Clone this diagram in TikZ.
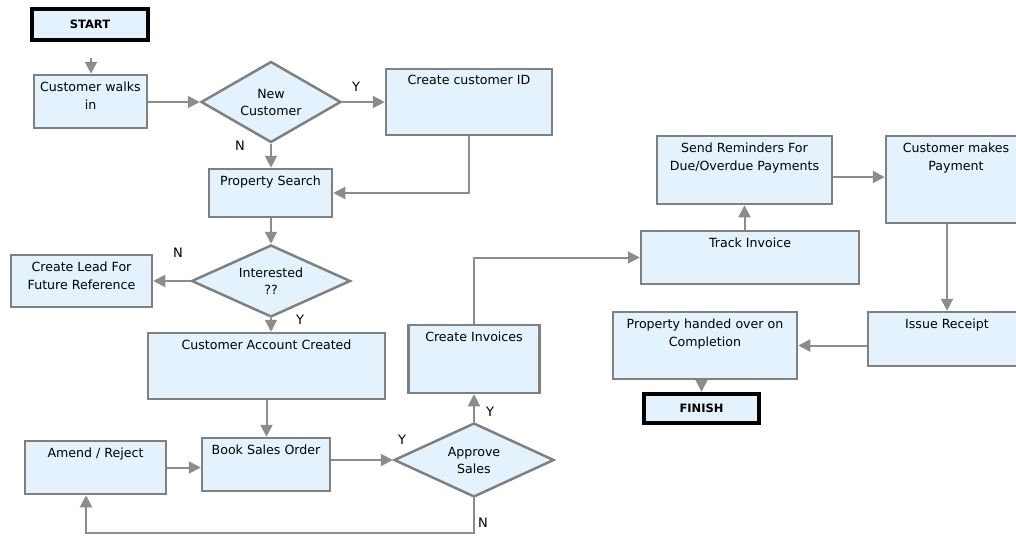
\documentclass[tikz,border=0pt]{standalone}
\usepackage{fontspec}
\setmainfont{DejaVu Sans}
\usepackage{tikz}
\usetikzlibrary{shapes.geometric,
				arrows.meta,
				calc}

\definecolor{boxfill}{RGB}{227,242,253}
\definecolor{boxline}{RGB}{128,128,128}
\definecolor{flowline}{RGB}{140,140,140}

\begin{document}
\begin{tikzpicture}[x=1pt, y=-1pt,
	box/.style={rectangle, draw=boxline, fill=boxfill, line width=2.5pt, inner sep=0pt},
	endbox/.style={rectangle, draw=black, fill=boxfill, line width=4.5pt, inner sep=0pt, font=\fontsize{11.5}{13}\selectfont\bfseries},
	decision/.style={diamond, draw=boxline, fill=boxfill, line width=2.5pt, inner sep=0pt},
	btext/.style={anchor=north, align=center, inner sep=0pt, yshift=-7.5pt, font=\fontsize{12.6}{18}\selectfont},
	dtext/.style={align=center, inner sep=0pt, font=\fontsize{12.6}{17}\selectfont},
	flow/.style={draw=flowline, line width=2pt, -{Triangle[length=12pt, width=12pt]}},
	yn/.style={inner sep=0pt, font=\fontsize{13}{14}\selectfont}]

\useasboundingbox[fill=white] (0,0) rectangle (1016,535);
\clip (0,0) rectangle (1016,535);

% left column
\node[endbox, minimum width=116pt, minimum height=31pt] (start) at (90,24.5) {START};
\node[box, minimum width=113pt, minimum height=53pt] (walk) at (90.5,101.5) {};
\node[btext] (walktxt) at (walk.north) {Customer walks\\in};
\node[decision, minimum width=140pt, minimum height=81pt] (newcust) at (271,102) {};
\node[dtext] (newcusttxt) at (newcust) {New\\Customer};
\node[box, minimum width=166pt, minimum height=66pt] (custid) at (469,102) {};
\node[btext] (custidtxt) at (custid.north) {Create customer ID};
\node[box, minimum width=123pt, minimum height=48pt] (search) at (270.5,193) {};
\node[btext] (searchtxt) at (search.north) {Property Search};
\node[decision, minimum width=159pt, minimum height=72pt] (interested) at (271,281) {};
\node[dtext] (interestedtxt) at (interested) {Interested\\??};
\node[box, minimum width=141pt, minimum height=52pt] (lead) at (81.5,281) {};
\node[btext] (leadtxt) at (lead.north) {Create Lead For\\Future Reference};
\node[box, minimum width=237pt, minimum height=66pt] (account) at (266.5,366) {};
\node[btext] (accounttxt) at (account.north) {Customer Account Created};
\node[box, minimum width=128pt, minimum height=53pt] (book) at (266,464.5) {};
\node[btext] (booktxt) at (book.north) {Book Sales Order};
\node[box, minimum width=141pt, minimum height=53pt] (amend) at (95.5,467.5) {};
\node[btext] (amendtxt) at (amend.north) {Amend / Reject};
\node[decision, minimum width=160pt, minimum height=74pt] (approve) at (474,460) {};
\node[dtext] (approvetxt) at (approve) {Approve\\Sales};
\node[box, minimum width=131pt, minimum height=68pt] (invoices) at (474,359) {};
\node[btext] (invoicestxt) at (invoices.north) {Create Invoices};

% right part
\node[box, minimum width=218pt, minimum height=53pt] (track) at (750,257.5) {};
\node[btext] (tracktxt) at (track.north) {Track Invoice};
\node[box, minimum width=175pt, minimum height=68pt] (remind) at (744.5,170) {};
\node[btext] (remindtxt) at (remind.north) {Send Reminders For\\Due/Overdue Payments};
\node[box, minimum width=140pt, minimum height=87pt] (payment) at (956,179.5) {};
\node[btext] (paymenttxt) at (payment.north) {Customer makes\\Payment};
\node[box, minimum width=158pt, minimum height=54pt] (receipt) at (947,339) {};
\node[btext] (receipttxt) at (receipt.north) {Issue Receipt};
\node[box, minimum width=184pt, minimum height=67pt] (handed) at (705,345.5) {};
\node[btext] (handedtxt) at (handed.north) {Property handed over on\\Completion};
\node[endbox, minimum width=115pt, minimum height=29pt] (finish) at (701.5,408.5) {FINISH};

\coordinate (starttip) at (91,58);
\coordinate (nloop) at (86,533);

\draw[flow] (starttip) -- (starttip |- walk.north);
\draw[flow] (walk.east |- newcust.west) -- (newcust.west);
\draw[flow] (newcust.east) -- (newcust.east -| custid.west);
\draw[flow] (newcust.south) -- (newcust.south |- search.north);
\draw[flow] (custid.south) |- (search.east);
\draw[flow] (interested.north |- search.south) -- (interested.north);
\draw[flow] (interested.west) -- (interested.west -| lead.east);
\draw[flow] (interested.south) -- (interested.south |- account.north);
\draw[flow] (account.south) -- (account.south |- book.north);
\draw[flow] (amend.east) -- (amend.east -| book.west);
\draw[flow] (approve.west -| book.east) -- (approve.west);
\draw[flow] (approve.north) -- (approve.north |- invoices.south);
\draw[flow] (approve.south) |- (nloop) -- (nloop |- amend.south);
\draw[flow] (invoices.north) |- (track.west);
\draw[flow] (remind.south |- track.north) -- (remind.south);
\draw[flow] ([yshift=-7pt]remind.east) -- ([yshift=-7pt]remind.east -| payment.west);
\draw[flow] (receipt.north |- payment.south) -- (receipt.north);
\draw[flow] (receipt.west |- handed.east) -- (handed.east);
\draw[flow] (finish.north |- handed.south) -- (finish.north);

\node[yn] (ynew) at (356,87) {Y};
\node[yn] (nnew) at (240,146) {N};
\node[yn] (nint) at (178,253) {N};
\node[yn] (yint) at (300,320) {Y};
\node[yn] (yapp) at (402,440) {Y};
\node[yn] (yinv) at (490,412) {Y};
\node[yn] (napp) at (483,523) {N};

\end{tikzpicture}
\end{document}
